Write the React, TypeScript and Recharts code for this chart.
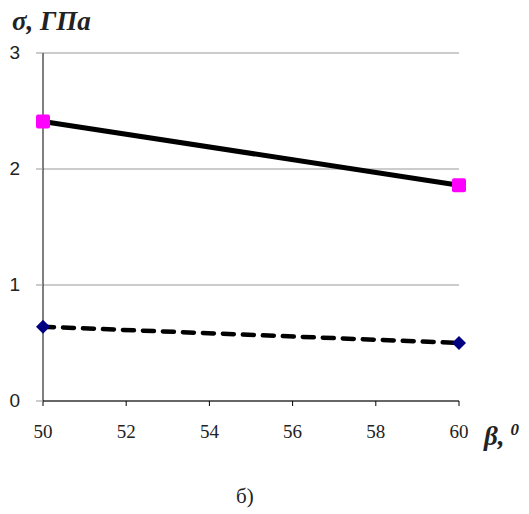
import { LineChart, Line, XAxis, YAxis, CartesianGrid } from 'recharts'

const angles = [50, 60]
const sigmaUpper = [2.41, 1.86]
const sigmaLower = [0.64, 0.5]
const xTicks = [50, 52, 54, 56, 58, 60]
const yTicks = [0, 1, 2, 3]

const data = angles.map((a, i) => ({ angle: a, upper: sigmaUpper[i], lower: sigmaLower[i] }))

const serif = '"Liberation Serif", "Times New Roman", serif'
const sans = '"Liberation Sans", Arial, sans-serif'

const SquareDot = (props: any) => {
  const { cx, cy, index } = props
  return <rect key={`sq-${index}`} x={cx - 7} y={cy - 7} width={14} height={14} rx={2} fill='#FF00FF' />
}

const DiamondDot = (props: any) => {
  const { cx, cy, index } = props
  return (
    <path
      key={`dm-${index}`}
      d={`M${cx - 7},${cy} L${cx},${cy - 7} L${cx + 7},${cy} L${cx},${cy + 7} Z`}
      fill='#000080'
    />
  )
}

const XTick = (props: any) => {
  const { x, y, payload } = props
  return (
    <text x={x} y={y + 30} textAnchor='middle' fill='#222' style={{ fontFamily: serif, fontSize: 19 }}>
      {payload.value}
    </text>
  )
}

const YTick = (props: any) => {
  const { x, y, payload } = props
  return (
    <text x={x - 14} y={y + 6} textAnchor='end' fill='#222' style={{ fontFamily: sans, fontSize: 19 }}>
      {payload.value}
    </text>
  )
}

export default function App() {
  return (
    <div style={{ position: 'absolute', left: 0, top: 0, width: 529, height: 514, background: '#fff' }}>
      <LineChart width={529} height={514} data={data} margin={{ top: 53, right: 70, bottom: 0, left: 0 }}>
        <CartesianGrid horizontal vertical={false} stroke='#999' />
        <XAxis
          dataKey='angle'
          type='number'
          domain={[50, 60]}
          ticks={xTicks}
          stroke='#000'
          tickSize={5}
          height={113}
          tick={XTick}
        />
        <YAxis
          type='number'
          domain={[0, 3]}
          ticks={yTicks}
          width={43}
          stroke='#000'
          tickLine={{ stroke: '#999' }}
          tickSize={7}
          tick={YTick}
        />
        <Line
          dataKey='upper'
          stroke='#000'
          strokeWidth={5}
          dot={SquareDot}
          activeDot={false}
          isAnimationActive={false}
        />
        <Line
          dataKey='lower'
          stroke='#000'
          strokeWidth={4.5}
          strokeDasharray='11 9'
          strokeLinecap='round'
          dot={DiamondDot}
          activeDot={false}
          isAnimationActive={false}
        />
      </LineChart>
      <div
        style={{
          position: 'absolute',
          left: 12,
          top: 6,
          fontFamily: serif,
          fontSize: 27,
          fontWeight: 'bold',
          fontStyle: 'italic',
          color: '#222',
          lineHeight: '30px',
          whiteSpace: 'nowrap',
        }}
      >
        σ, ГПа
      </div>
      <div
        style={{
          position: 'absolute',
          left: 484,
          top: 421,
          fontFamily: serif,
          fontSize: 27,
          fontWeight: 'bold',
          fontStyle: 'italic',
          color: '#222',
          lineHeight: '30px',
          whiteSpace: 'nowrap',
        }}
      >
        β,
        <span style={{ fontSize: 17, position: 'relative', top: -10, marginLeft: 6 }}>0</span>
      </div>
      <div
        style={{
          position: 'absolute',
          left: 236,
          top: 483,
          fontFamily: serif,
          fontSize: 21,
          color: '#222',
          lineHeight: '26px',
        }}
      >
        б)
      </div>
    </div>
  )
}
